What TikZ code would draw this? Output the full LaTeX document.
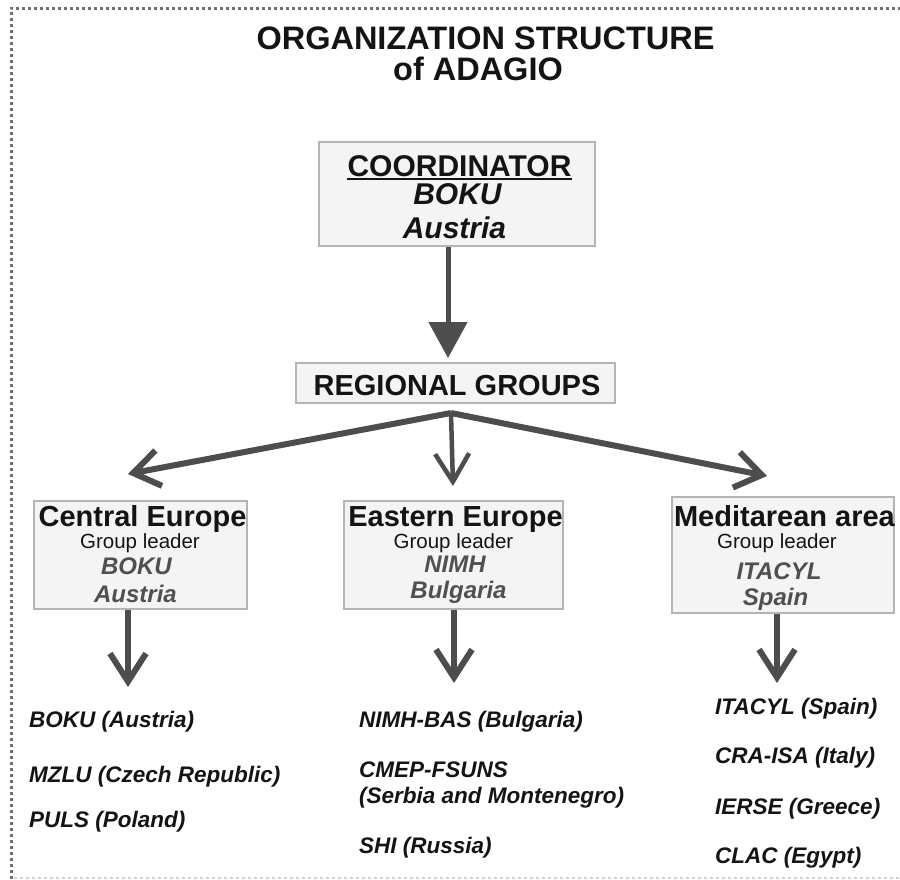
\documentclass[tikz,border=0pt]{standalone}
\usepackage{fontspec}
\setmainfont{Liberation Sans}
\usetikzlibrary{arrows.meta}
\definecolor{arrowgray}{HTML}{4D4D4D}
\definecolor{boxfill}{HTML}{F4F4F4}
\definecolor{boxline}{HTML}{B4B4B4}
\definecolor{namegray}{HTML}{505050}
\definecolor{bordergray}{HTML}{707070}
\definecolor{inkblack}{HTML}{141414}
\newcommand\fsz[1]{\fontsize{#1}{#1}\selectfont}
\begin{document}
\begin{tikzpicture}[x=1pt,y=-1pt,
  txt/.style={inner sep=0pt, anchor=base, text=inkblack},
  listitem/.style={inner sep=0pt, anchor=base west, text=inkblack, font=\fsz{22.5}\bfseries\itshape},
  box/.style={draw=boxline, fill=boxfill, line width=1.2pt, inner sep=0pt},
  headtxt/.style={txt, font=\fsz{29}\bfseries},
  leadtxt/.style={txt, font=\fsz{20.5}},
  nametxt/.style={txt, text=namegray, font=\fsz{24}\bfseries\itshape},
  bigarrow/.style={draw=arrowgray, line width=5pt, -{Triangle[length=36pt,width=38pt]}, arrowgray},
  branch/.style={draw=arrowgray, line width=6pt, -{Straight Barb[length=26pt,width=36pt]}},
  thinbranch/.style={draw=arrowgray, line width=4.5pt, -{Straight Barb[length=28pt,width=34pt]}},
  downarrow/.style={draw=arrowgray, line width=6pt, -{Straight Barb[length=28pt,width=36pt]}}
]
\useasboundingbox (0,0) rectangle (900,879);
\fill[white] (0,0) rectangle (900,879);

% dotted frame
\draw[bordergray, line width=3pt, dash pattern=on 3pt off 3pt] (11,879) -- (11,8) -- (900,8);
\draw[gray!35, line width=2pt, dash pattern=on 3pt off 3pt] (14,878) -- (900,878);

% title
\node[txt, font=\fsz{32.5}\bfseries] (title1) at (485.5,49) {ORGANIZATION STRUCTURE};
\node[txt, font=\fsz{32.5}\bfseries] (title2) at (478,80) {of ADAGIO};

% coordinator
\node[box, minimum width=276pt, minimum height=104pt] (coordbox) at (457,194) {};
\node[txt, font=\fsz{30}\bfseries] (coordhead) at (459.5,176) {COORDINATOR};
\draw[inkblack, line width=1.8pt] ([yshift=-2.8pt]coordhead.base west) -- ([yshift=-2.8pt]coordhead.base east);
\node[txt, font=\fsz{30}\bfseries\itshape] (coordname) at (457.5,204) {BOKU};
\node[txt, font=\fsz{30}\bfseries\itshape] (coordctry) at (454.5,238) {Austria};

% regional groups
\node[box, minimum width=319pt, minimum height=40pt] (regbox) at (455.5,383) {};
\node[txt, font=\fsz{29}\bfseries] (reghead) at (457,395) {REGIONAL GROUPS};

\coordinate (bigtip) at (448,358);
\draw[bigarrow] (coordbox.south -| bigtip) -- (bigtip);

% group boxes
\node[box, minimum width=213pt, minimum height=108pt] (cebox) at (140.5,555) {};
\node[headtxt] (cehead) at (142.5,526) {Central Europe};
\node[leadtxt] (celead) at (140,548) {Group leader};
\node[nametxt] (cename) at (136.5,574) {BOKU};
\node[nametxt] (cectry) at (135.5,602) {Austria};

\node[box, minimum width=219pt, minimum height=108pt] (eebox) at (453.5,555) {};
\node[headtxt] (eehead) at (455.5,526) {Eastern Europe};
\node[leadtxt] (eelead) at (453.5,548) {Group leader};
\node[nametxt] (eename) at (455,572) {NIMH};
\node[nametxt] (eectry) at (458.5,598) {Bulgaria};

\node[box, minimum width=222pt, minimum height=116pt] (mabox) at (783,555) {};
\node[headtxt] (mahead) at (784.5,526) {Meditarean area};
\node[leadtxt] (malead) at (777,548) {Group leader};
\node[nametxt] (maname) at (779,579) {ITACYL};
\node[nametxt] (mactry) at (775.5,605) {Spain};

% branching arrows
\coordinate (fork) at (451,413);
\coordinate (tipL) at (128,474);
\coordinate (tipM) at (453,486);
\coordinate (tipR) at (767,476);
\draw[branch] (fork) -- (tipL);
\draw[thinbranch] (fork) -- (tipM);
\draw[branch] (fork) -- (tipR);

% down arrows
\coordinate (downL) at (128,687);
\coordinate (downM) at (454,683);
\coordinate (downR) at (777,683);
\draw[downarrow] (cebox.south -| downL) -- (downL);
\draw[downarrow] (eebox.south -| downM) -- (downM);
\draw[downarrow] (mabox.south -| downR) -- (downR);

% member lists
\node[listitem] (l1a) at (29,727) {BOKU (Austria)};
\node[listitem] (l1b) at (29,782) {MZLU (Czech Republic)};
\node[listitem] (l1c) at (29,827) {PULS (Poland)};

\node[listitem] (l2a) at (359,727) {NIMH-BAS (Bulgaria)};
\node[listitem] (l2b) at (359,777) {CMEP-FSUNS};
\node[listitem] (l2c) at (359,803) {(Serbia and Montenegro)};
\node[listitem] (l2d) at (359,853) {SHI (Russia)};

\node[listitem] (l3a) at (715,714) {ITACYL (Spain)};
\node[listitem] (l3b) at (715,763) {CRA-ISA (Italy)};
\node[listitem] (l3c) at (715,814) {IERSE (Greece)};
\node[listitem] (l3d) at (715,863) {CLAC (Egypt)};
\end{tikzpicture}
\end{document}
